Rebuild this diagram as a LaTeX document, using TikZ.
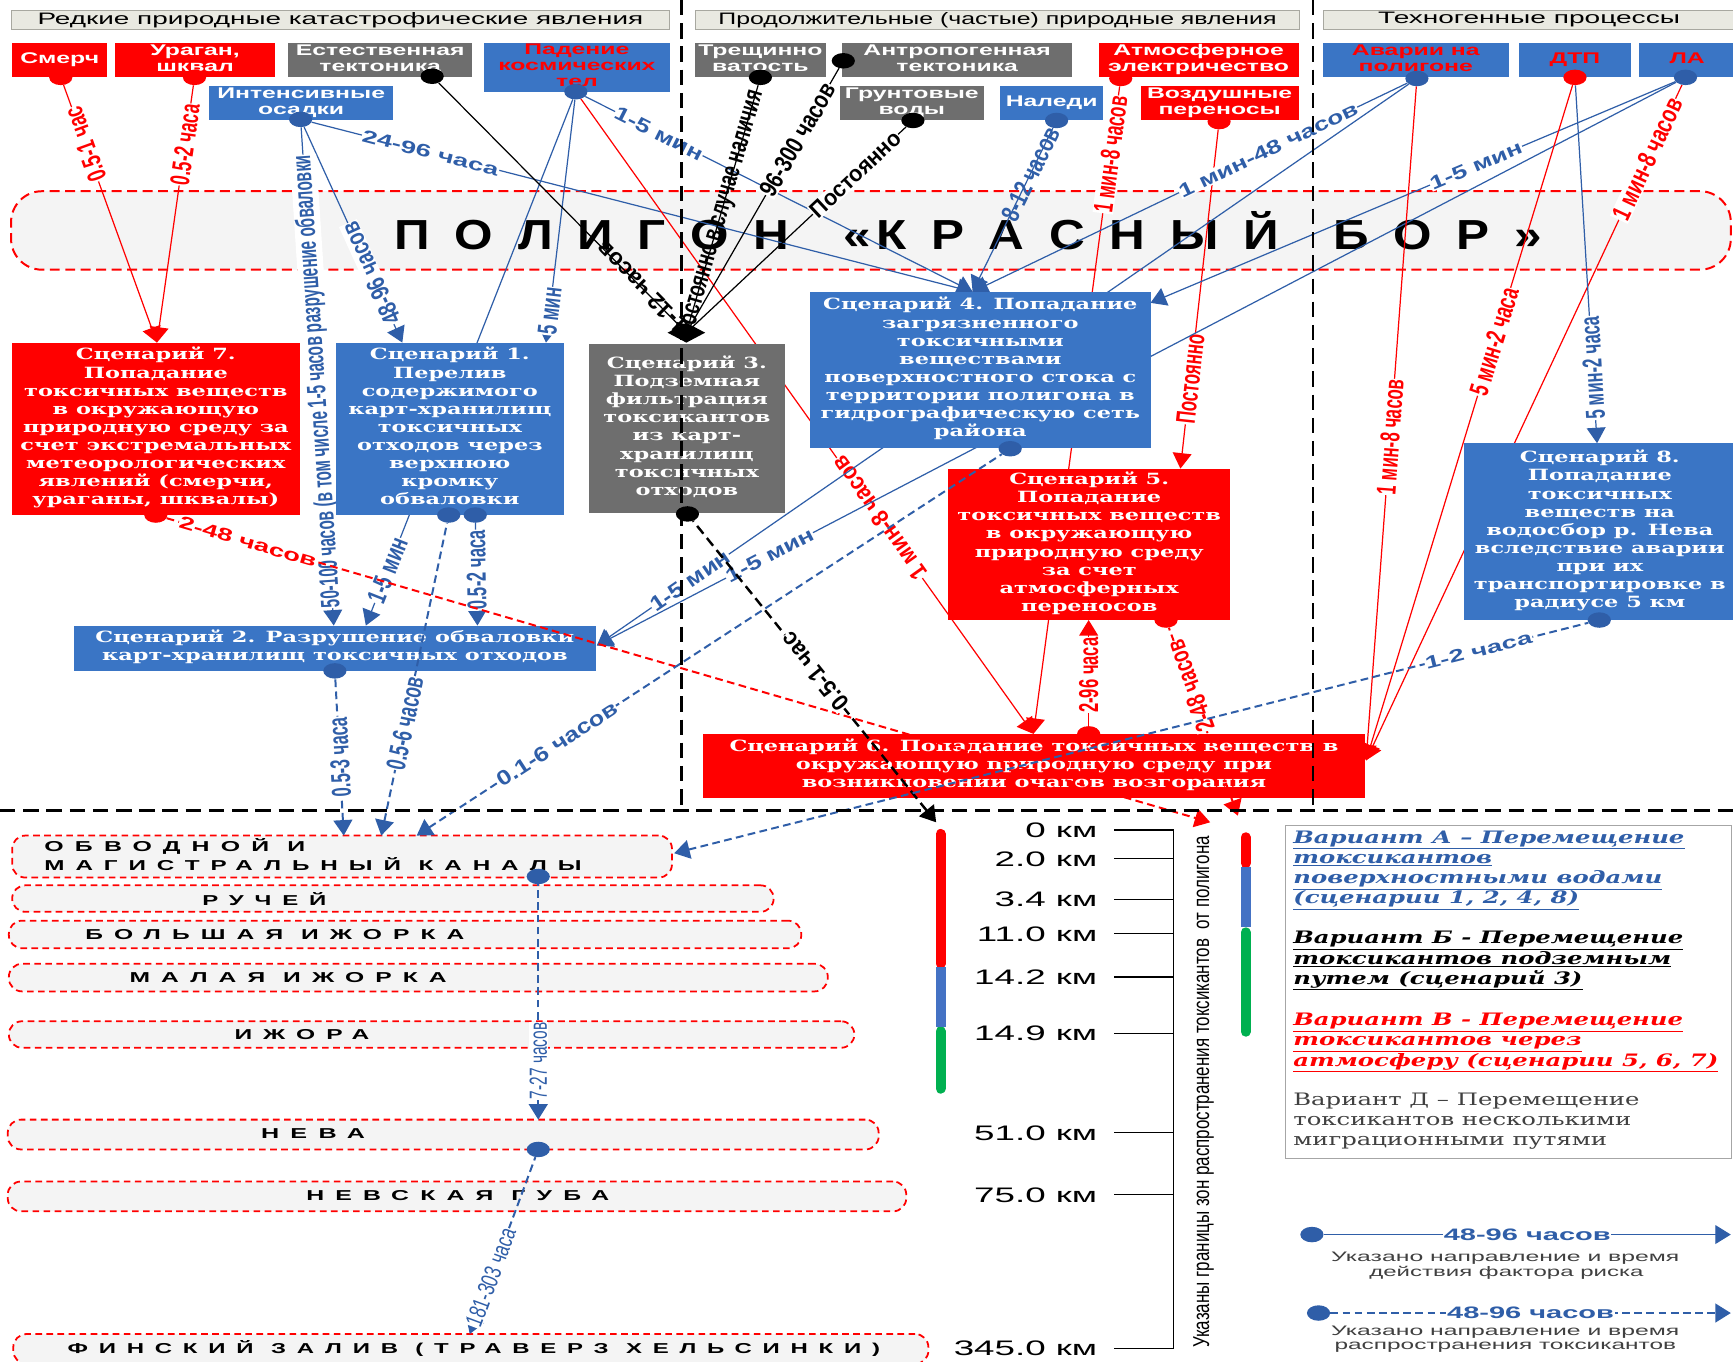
\documentclass[tikz,border=0pt]{standalone}
\usepackage{fontspec}
\usepackage{graphicx}
\setmainfont{DejaVu Serif}
\newfontfamily\sfr{Liberation Sans}
\newfontfamily\sfsp[LetterSpace=45]{Liberation Sans}
\usetikzlibrary{arrows.meta,shapes.geometric}
\pgfdeclarelayer{bg}
\pgfdeclarelayer{lines}
\pgfdeclarelayer{fg}
\pgfdeclarelayer{top}
\pgfsetlayers{bg,lines,main,fg,top}
\definecolor{cred}{HTML}{FF0000}
\definecolor{cblue}{HTML}{3A75C5}
\definecolor{lblue}{HTML}{2F5EA8}
\definecolor{cgray}{HTML}{6E6E6E}
\definecolor{hfill}{HTML}{E9E9E1}
\definecolor{hdraw}{HTML}{A8A8A0}
\definecolor{bandf}{HTML}{F4F4F4}
\definecolor{cgreen}{HTML}{00B050}
\definecolor{bblue}{HTML}{4472C4}
\definecolor{tgray}{HTML}{404040}
\newcommand\SX[2]{\scalebox{#1}[1]{\begin{tabular}{@{}c@{}}#2\end{tabular}}}
\newcommand\SL[2]{\scalebox{#1}[1]{\begin{tabular}{@{}l@{}}#2\end{tabular}}}
\newcommand\SC[2]{\scalebox{#1}[1]{#2}}
\newcommand\SP[3]{\scalebox{#1}[#2]{#3}}
\newcommand\RB[2]{\resizebox{#1pt}{\height}{#2}}
\newcommand\labf{\sfr\bfseries\fontsize{15}{17}\selectfont}
\newcommand\srcf{\sfr\bfseries\fontsize{14}{14.5}\selectfont}
\newcommand\scnf{\bfseries\fontsize{14}{16.4}\selectfont}
\newcommand\BX[6]{\node[fill=#2, inner sep=0pt, minimum width={#5-#3}, minimum height={#6-#4}] (#1) at ({(#3+#5)/2},{(#4+#6)/2}) {};}
\newcommand\g{\hspace{0.5em}}
\renewcommand\arraystretch{1}
\begin{document}
\begin{tikzpicture}[x=1pt,y=-1pt,
 ln/.style={line width=1.1pt},
 rl/.style={draw=cred},
 bl/.style={draw=lblue},
 kl/.style={draw=black},
 tipE/.style={-{Triangle[length=14pt,width=17pt]}},
 tipS/.style={{Triangle[length=14pt,width=17pt]}-},
 dsh/.style={line width=1.8pt, dash pattern=on 7pt off 4pt},
 dshk/.style={draw=black, line width=2.2pt, dash pattern=on 9pt off 5pt},
 lab/.style={sloped, allow upside down, fill=white, inner sep=0.6pt, font=\labf},
 labn/.style={sloped, allow upside down, inner sep=0.6pt, font=\labf},
 labr/.style={sloped, allow upside down, fill=white, inner sep=0.6pt, font=\sfr\fontsize{14}{16}\selectfont},
 dotn/.style={ellipse, minimum width=21pt, minimum height=14pt, inner sep=0pt},
 hdr/.style={draw=hdraw, fill=hfill, line width=0.8pt, inner sep=0pt, font=\sfr\fontsize{15}{17}\selectfont},
 wb/.style={draw=cred, fill=bandf, line width=1.6pt, dash pattern=on 6pt off 4pt, rounded corners=12pt, inner sep=0pt},
 wt/.style={anchor=west, inner sep=0pt, font=\sfsp\bfseries\fontsize{13}{15}\selectfont},
 km/.style={anchor=east, inner sep=0pt, font=\sfr\fontsize{19}{21}\selectfont},
 sepl/.style={draw=black, line width=2.6pt, dash pattern=on 14pt off 7pt},
 stx/.style={text=white, font=\srcf, inner sep=0pt},
 stxr/.style={text=cred, font=\srcf, inner sep=0pt},
 scx/.style={text=white, font=\scnf, inner sep=0pt}
]
\useasboundingbox (0,0) rectangle (1568,1232);

\begin{pgfonlayer}{bg}
\fill[white] (0,0) rectangle (1568,1232);
\node[hdr, minimum width=596pt, minimum height=18pt] (H1) at (308,18) {\RB{548}{Редкие природные катастрофические явления}};
\node[hdr, minimum width=547pt, minimum height=18pt] (H2) at (902.5,18) {\RB{505}{Продолжительные (частые) природные явления}};
\node[hdr, minimum width=373pt, minimum height=18pt] (H3) at (1383.5,18) {\RB{273}{Техногенные процессы}};
\node[draw=cred, fill=bandf, line width=1.8pt, dash pattern=on 9pt off 5pt, rounded corners=28pt, minimum width=1556pt, minimum height=71pt, inner sep=0pt] (band) at (788,208.5) {};
\node[inner sep=0pt] (title) at (876,209) {\RB{1038}{\sfr\bfseries\fontsize{38}{40}\selectfont П\g О\g Л\g И\g Г\g О\g Н\hspace{1.1em}«\hspace{0.1em}К\g Р\g А\g С\g Н\g Ы\g Й\hspace{1.1em}Б\g О\g Р\g »}};
% water bodies
\node[wb, minimum width=597pt, minimum height=38pt] (Ob) at (309.5,775) {};
\node[wb, minimum width=689pt, minimum height=24pt] (Ru) at (355.5,813) {};
\node[wb, minimum width=717pt, minimum height=25pt] (Bi) at (366.5,845.5) {};
\node[wb, minimum width=741pt, minimum height=25pt] (Mi) at (378.5,884.5) {};
\node[wb, minimum width=765pt, minimum height=24pt] (Iz) at (390.5,936) {};
\node[wb, minimum width=788pt, minimum height=27pt] (Ne) at (401,1026.5) {};
\node[wb, minimum width=813pt, minimum height=27pt] (Ng) at (413.5,1082.5) {};
\node[wb, minimum width=828pt, minimum height=27pt] (Fi) at (426,1220.5) {};
\node[wt] at (40,766) {\RB{236}{ОБВОДНОЙ И}};
\node[wt] at (40,782) {\RB{486}{МАГИСТРАЛЬНЫЙ КАНАЛЫ}};
\node[wt] at (183,813) {\RB{112}{РУЧЕЙ}};
\node[wt] at (77,845.5) {\RB{343}{БОЛЬШАЯ ИЖОРКА}};
\node[wt] at (117,884.5) {\RB{287}{МАЛАЯ ИЖОРКА}};
\node[wt] at (212,936) {\RB{122}{ИЖОРА}};
\node[wt] at (236,1026) {\RB{94}{НЕВА}};
\node[wt] at (277,1082) {\RB{274}{НЕВСКАЯ ГУБА}};
\node[wt] at (61,1220) {\RB{735}{ФИНСКИЙ ЗАЛИВ (ТРАВЕРЗ ХЕЛЬСИНКИ)}};
% legend box
\node[draw=black!35, fill=white, line width=0.8pt, minimum width=404pt, minimum height=301pt, inner sep=0pt] (leg) at (1365,897.5) {};
\end{pgfonlayer}

% ---------- boxes ----------
\BX{Sm}{cred}{11}{39}{97}{70}
\BX{Ur}{cred}{104}{39}{249}{70}
\BX{Et}{cgray}{261}{39}{427}{70}
\BX{Pa}{cblue}{438}{39}{606}{83}
\BX{Os}{cblue}{189}{78}{356}{109}
\BX{Tr}{cgray}{629}{39}{747}{70}
\BX{An}{cgray}{762}{39}{970}{70}
\BX{Gr}{cgray}{760}{78}{890}{109}
\BX{Na}{cblue}{905}{78}{998}{109}
\BX{At}{cred}{994}{39}{1175}{70}
\BX{Vo}{cred}{1032}{78}{1175}{109}
\BX{Av}{cblue}{1197}{39}{1365}{70}
\BX{Dt}{cblue}{1374}{39}{1476}{70}
\BX{La}{cblue}{1483}{39}{1570}{70}
\node[stx] at (Sm) {\SX{1.6}{Смерч}};
\node[stx] at (Ur) {\SX{1.6}{Ураган,\\шквал}};
\node[stx] at (Et) {\SX{1.6}{Естественная\\тектоника}};
\node[stxr] at (Pa) {\SX{1.6}{Падение\\космических\\тел}};
\node[stx] at (Os) {\SX{1.6}{Интенсивные\\осадки}};
\node[stx] at (Tr) {\SX{1.6}{Трещинно\\ватость}};
\node[stx] at (An) {\SX{1.6}{Антропогенная\\тектоника}};
\node[stx] at (Gr) {\SX{1.6}{Грунтовые\\воды}};
\node[stx] at (Na) {\SX{1.6}{Наледи}};
\node[stx] at (At) {\SX{1.6}{Атмосферное\\электричество}};
\node[stx] at (Vo) {\SX{1.6}{Воздушные\\переносы}};
\node[stxr] at (Av) {\SX{1.6}{Аварии на\\полигоне}};
\node[stxr] at (Dt) {\SX{1.6}{ДТП}};
\node[stxr] at (La) {\SX{1.6}{ЛА}};

\BX{S7}{cred}{11}{310}{271}{466}
\BX{S1}{cblue}{304}{310}{510}{466}
\BX{S3}{cgray}{533}{311}{710}{464}
\BX{S4}{cblue}{733}{264}{1041}{405}
\BX{S5}{cred}{858}{424}{1113}{561}
\BX{S8}{cblue}{1325}{401}{1570}{561}
\BX{S2}{cblue}{67}{566}{539}{607}
\BX{S6}{cred}{636}{664}{1235}{722}
\node[scx] at (S7) {\SX{1.45}{Сценарий 7.\\Попадание\\токсичных веществ\\в окружающую\\природную среду за\\счет экстремальных\\метеорологических\\явлений (смерчи,\\ураганы, шквалы)}};
\node[scx] at (S1) {\SX{1.45}{Сценарий 1.\\Перелив\\содержимого\\карт-хранилищ\\токсичных\\отходов через\\верхнюю\\кромку\\обваловки}};
\node[scx] at (S3) {\SX{1.45}{Сценарий 3.\\Подземная\\фильтрация\\токсикантов\\из карт-\\хранилищ\\токсичных\\отходов}};
\node[scx] at (S4) {\SX{1.45}{Сценарий 4. Попадание\\загрязненного\\токсичными\\веществами\\поверхностного стока с\\территории полигона в\\гидрографическую сеть\\района}};
\node[scx] at (S5) {\SX{1.45}{Сценарий 5.\\Попадание\\токсичных веществ\\в окружающую\\природную среду\\за счет\\атмосферных\\переносов}};
\node[scx] at (S8) {\SX{1.45}{Сценарий 8.\\Попадание\\токсичных\\веществ на\\водосбор р. Нева\\вследствие аварии\\при их\\транспортировке в\\радиусе 5 км}};
\node[scx] at (S2) {\SX{1.45}{Сценарий 2. Разрушение обваловки\\карт-хранилищ токсичных отходов}};
\node[scx] at (S6) {\SX{1.45}{Сценарий 6. Попадание токсичных веществ в\\окружающую природную среду при\\возникновении очагов возгорания}};

% ---------- dots and targets ----------
\begin{pgfonlayer}{top}
\node[dotn,fill=cred] (dSm) at (55,70) {};
\node[dotn,fill=cred] (dUr) at (176,70) {};
\node[dotn,fill=black] (dEt) at (391,69) {};
\node[dotn,fill=lblue] (dPa) at (521,83) {};
\node[dotn,fill=lblue] (dOs) at (272,108) {};
\node[dotn,fill=black] (dTr) at (688,70) {};
\node[dotn,fill=black] (dAn) at (763,55) {};
\node[dotn,fill=black] (dGr) at (826,109) {};
\node[dotn,fill=lblue] (dNa) at (956,109) {};
\node[dotn,fill=cred] (dAt) at (1014,71) {};
\node[dotn,fill=cred] (dVo) at (1103,110) {};
\node[dotn,fill=lblue] (dAv) at (1282,71) {};
\node[dotn,fill=cred] (dDt) at (1425,70) {};
\node[dotn,fill=lblue] (dLa) at (1525,70) {};
\node[dotn,fill=cred] (dS7) at (141,466) {};
\node[dotn,fill=lblue] (dS1a) at (406,466) {};
\node[dotn,fill=lblue] (dS1b) at (430,466) {};
\node[dotn,fill=black] (dS3) at (622,465) {};
\node[dotn,fill=lblue] (dS4) at (914,406) {};
\node[dotn,fill=cred] (dS5) at (1055,561) {};
\node[dotn,fill=cred] (dS6) at (985,664) {};
\node[dotn,fill=lblue] (dS8) at (1447,561) {};
\node[dotn,fill=lblue] (dS2) at (303,607) {};
\node[dotn,fill=lblue] (dOb) at (487,793) {};
\node[dotn,fill=lblue] (dNe) at (487,1040) {};
\node[dotn,fill=lblue] (dL1) at (1187,1117) {};
\node[dotn,fill=lblue] (dL2) at (1193,1188) {};
\coordinate (dia) at (621,301);
\fill[black] (604,301) -- (621,292) -- (638,301) -- (621,310) -- cycle;
\end{pgfonlayer}
\coordinate (tS7) at (142,310);
\coordinate (tS1a) at (364,310);
\coordinate (tS1b) at (494,310);
\coordinate (tS4) at (880,264);
\coordinate (tS4r) at (1041,274);
\coordinate (tS2a) at (302,566);
\coordinate (tS2b) at (331,566);
\coordinate (tS2c) at (432,566);
\coordinate (tS2r) at (540,584);
\coordinate (tS5) at (1068,424);
\coordinate (tS5b) at (985,561);
\coordinate (tS6) at (935,664);
\coordinate (tS6r) at (1236,688);
\coordinate (tS8) at (1445,401);
\coordinate (tOb1) at (311,756);
\coordinate (tOb2) at (345,756);
\coordinate (tOb3) at (377,756);
\coordinate (tObr) at (610,772);
\coordinate (tNe) at (487,1013);
\coordinate (tFi) at (425,1207);
\coordinate (tkm1) at (847,744);
\coordinate (tkm2) at (1095,744);
\coordinate (tkm3) at (1120,738);
\coordinate (tL1) at (1566,1117);
\coordinate (tL2) at (1566,1188);

% ---------- solid connectors ----------
\begin{pgfonlayer}{lines}
\draw[ln,rl,tipS] (tS7) -- node[lab,text=cred,pos=.77]{\SP{1.1}{1.6}{0.5-1 час}} (dSm);
\draw[ln,rl,tipS] (tS7) -- node[lab,text=cred,pos=.77]{\SP{1.02}{1.65}{0.5-2 часа}} (dUr);
\draw[ln,bl,tipE] (dOs) -- node[lab,text=lblue,pos=.18]{\SP{1.66}{1.06}{24-96 часа}} (tS4);
\draw[ln,bl,tipS] (tS1a) -- node[lab,text=lblue,pos=.32]{\SP{1.15}{1.55}{48-96 часов}} (dOs);
\draw[ln,bl,tipS] (tS2a) -- node[lab,text=lblue,pos=.49]{\scalebox{1}[1.6]{\RB{410}{50-100 часов (в том числе 1-5 часов разрушение обваловки}}} (dOs);
\draw[ln,bl,tipE] (dPa) -- node[lab,text=lblue,pos=.19]{\SP{1.58}{1.18}{1-5 мин}} (tS4);
\draw[ln,bl,tipS] (tS1b) -- node[lab,text=lblue,pos=.13]{\SP{1.02}{1.65}{5 мин}} (dPa);
\draw[ln,bl,tipS] (tS2b) -- node[lab,text=lblue,pos=.105]{\SP{1.12}{1.6}{1-5 мин}} (dPa);
\draw[ln,rl,tipS] (tS6) -- node[lab,text=cred,pos=.34]{\SP{1.28}{1.48}{1 мин-8 часов}} (dPa);
\draw[ln,kl] (dia) -- node[labn,pos=.18]{\SP{1.38}{1.4}{1-12 часов}} (dEt);
\draw[ln,kl] (dia) -- node[labn,pos=.48]{\SP{1.07}{1.6}{Постоянно в случае наличия}} (dTr);
\draw[ln,kl] (dia) -- node[lab,pos=.73]{\SP{1.21}{1.52}{96-300 часов}} (dAn);
\draw[ln,kl] (dia) -- node[lab,pos=.77]{\SP{1.3}{1.37}{Постоянно}} (dGr);
\draw[ln,bl,tipS] (tS4) -- node[labn,text=lblue,pos=.72]{\SP{1.17}{1.55}{8-12 часов}} (dNa);
\draw[ln,rl,tipS] (tS6) -- node[lab,text=cred,pos=.895]{\SP{1.03}{1.65}{1 мин-8 часов}} (dAt);
\draw[ln,rl,tipS] (tS5) -- node[lab,text=cred,pos=.265]{\SP{1.02}{1.65}{Постоянно}} (dVo);
\draw[ln,bl,tipS] (tS4) -- node[lab,text=lblue,pos=.68]{\SP{1.59}{1.16}{1 мин-48 часов}} (dAv);
\draw[ln,bl,tipS] (tS2r) -- node[lab,text=lblue,pos=.115]{\SP{1.51}{1.27}{1-5 мин}} (dAv);
\draw[ln,bl,tipS] (tS4r) -- node[lab,text=lblue,pos=.62]{\SP{1.61}{1.14}{1-5 мин}} (dLa);
\draw[ln,bl,tipS] (tS2r) -- node[lab,text=lblue,pos=.16]{\SP{1.58}{1.19}{1-5 мин}} (dLa);
\draw[ln,rl,tipS] (tS6r) -- node[lab,text=cred,pos=.48]{\SP{1.01}{1.65}{1 мин-8 часов}} (dAv);
\draw[ln,rl,tipS] (tS6r) -- node[lab,text=cred,pos=.62]{\SP{1.08}{1.62}{5 мин-2 часа}} (dDt);
\draw[ln,rl,tipS] (tS6r) -- node[lab,text=cred,pos=.89]{\SP{1.16}{1.58}{1 мин-8 часов}} (dLa);
\draw[ln,bl,tipS] (tS8) -- node[lab,text=lblue,pos=.21]{\SP{1}{1.65}{5 мин-2 часа}} (dDt);
\draw[ln,rl,tipE] (dS6) -- node[lab,text=cred,pos=.48]{\SP{1}{1.65}{2-96 часа}} (tS5b);
\draw[ln,bl,tipS] (tS2c) -- node[lab,text=lblue,pos=.54]{\SP{1}{1.65}{0.5-2 часа}} (dS1b);
\draw[ln,bl,tipE] (dL1) -- node[lab,text=lblue]{\SC{1.75}{48-96 часов}} (tL1);
\end{pgfonlayer}

% ---------- dashed connectors and overlays ----------
\begin{pgfonlayer}{fg}
\draw[dsh,rl,tipE] (dS7) -- node[lab,text=cred,pos=.078]{\SP{1.65}{1.07}{2-48 часов}} (tkm2);
\draw[dsh,rl,tipS] (tkm3) -- node[lab,text=cred,pos=.69]{\SP{1.1}{1.6}{2-48 часов}} (dS5);
\draw[dshk,tipS] (tkm1) -- node[lab,pos=.5]{\SP{1.32}{1.45}{0.5-1 час}} (dS3);
\draw[dsh,bl,tipS] (tOb3) -- node[lab,text=lblue,pos=.24]{\SP{1.53}{1.25}{0.1-6 часов}} (dS4);
\draw[dsh,bl,tipS] (tOb1) -- node[lab,text=lblue,pos=.5]{\SP{1}{1.65}{0.5-3 часа}} (dS2);
\draw[dsh,bl,tipS] (tOb2) -- node[lab,text=lblue,pos=.36]{\SP{1.04}{1.65}{0.5-6 часов}} (dS1a);
\draw[dsh,bl,tipS] (tObr) -- node[lab,text=lblue,pos=.88]{\SP{1.66}{1.06}{1-2 часа}} (dS8);
\draw[dsh,bl,tipS] (tNe) -- node[labr,text=lblue,pos=.25]{\SP{1}{1.6}{7-27 часов}} (dOb);
\draw[dsh,bl,tipS] (tFi) -- node[labr,text=lblue,pos=.32]{\SP{1.1}{1.55}{181-303 часа}} (dNe);
\draw[dsh,bl,tipE] (dL2) -- node[lab,text=lblue]{\SC{1.75}{48-96 часов}} (tL2);
% separators
\draw[sepl] (617,0) -- (617,733);
\draw[sepl] (1188,0) -- (1188,733);
\draw[sepl] (0,733) -- (1568,733);
% colour bars
\draw[line width=9pt, cred, line cap=round] (851,754.5) -- (851,872);
\draw[line width=9pt, cgreen, line cap=round] (851,933) -- (851,985);
\draw[line width=9pt, bblue] (851,875) -- (851,929);
\draw[line width=9pt, cred, line cap=round] (1127,757.5) -- (1127,781);
\draw[line width=9pt, cgreen, line cap=round] (1127,843.5) -- (1127,933.5);
\draw[line width=9pt, bblue] (1127,784) -- (1127,839);
\end{pgfonlayer}

% ---------- km scale ----------
\draw[line width=1pt] (1062,751) -- (1062,1220);
\foreach \yy/\tt in {751/0 км,777/2.0 км,814/3.4 км,845/11.0 км,884/14.2 км,935/14.9 км,1025/51.0 км,1081/75.0 км,1220/345.0 км}{
  \draw[line width=1pt] (1008,\yy) -- (1062,\yy);
  \node[km] at (993,\yy) {\SC{1.75}{\tt}};
}
\node[rotate=90, inner sep=0pt] (vtxt) at (1089,988) {\scalebox{1}[1.3]{\RB{463}{\sfr\fontsize{16}{18}\selectfont Указаны границы зон распространения токсикантов\ \ от полигона}}};

% ---------- legend ----------
\node[anchor=north west, inner sep=0pt, text=lblue, font=\bfseries\itshape\fontsize{15.5}{18.3}\selectfont] (vA) at (1170,750) {\SL{1.42}{\underline{Вариант А – Перемещение}\\\underline{токсикантов}\\\underline{поверхностными водами}\\\underline{(сценарии 1, 2, 4, 8)}}};
\node[anchor=north west, inner sep=0pt, text=black, font=\bfseries\itshape\fontsize{15.5}{18.3}\selectfont] (vB) at (1170,841) {\SL{1.42}{\underline{Вариант Б - Перемещение}\\\underline{токсикантов подземным}\\\underline{путем (сценарий 3)}}};
\node[anchor=north west, inner sep=0pt, text=cred, font=\bfseries\itshape\fontsize{15.5}{18.3}\selectfont] (vV) at (1170,915) {\SL{1.42}{\underline{Вариант В - Перемещение}\\\underline{токсикантов через}\\\underline{атмосферу (сценарии 5, 6, 7)}}};
\node[anchor=north west, inner sep=0pt, text=tgray, font=\fontsize{15.5}{18.3}\selectfont] (vD) at (1170,987) {\SL{1.42}{Вариант Д – Перемещение\\токсикантов несколькими\\миграционными путями}};
\node[inner sep=0pt, text=tgray, font=\sfr\fontsize{12.5}{14}\selectfont] at (1362,1138) {\RB{315}{Указано направление и время}};
\node[inner sep=0pt, text=tgray, font=\sfr\fontsize{12.5}{14}\selectfont] at (1363,1152) {\RB{248}{действия фактора риска}};
\node[inner sep=0pt, text=tgray, font=\sfr\fontsize{12.5}{14}\selectfont] at (1362,1205) {\RB{315}{Указано направление и время}};
\node[inner sep=0pt, text=tgray, font=\sfr\fontsize{12.5}{14}\selectfont] at (1362,1219) {\RB{309}{распространения токсикантов}};
\end{tikzpicture}
\end{document}
